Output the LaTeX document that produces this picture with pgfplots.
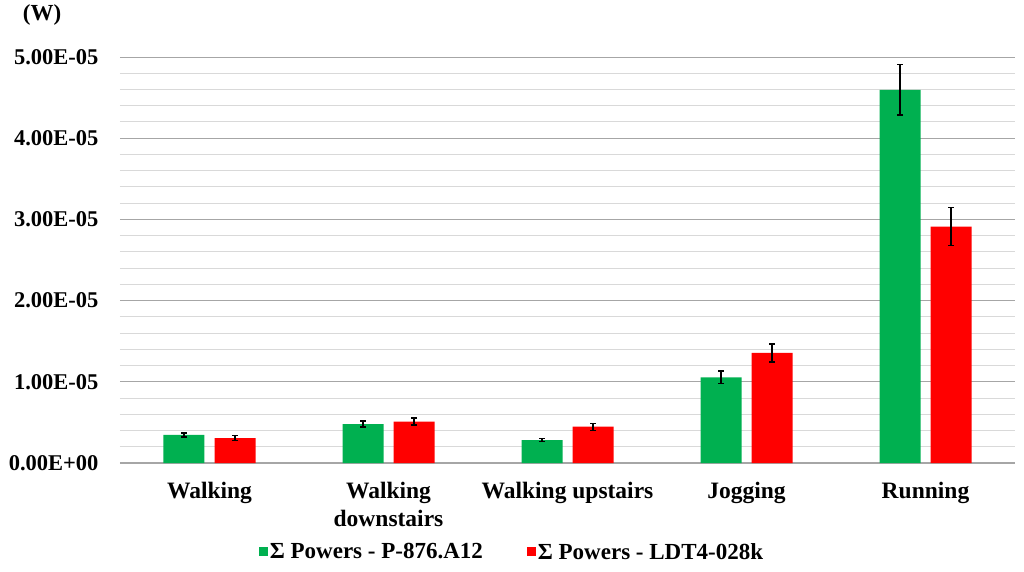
\documentclass[border=0pt]{standalone}
\usepackage{pgfplots}
\pgfplotsset{compat=1.18}
\usepackage{fontspec}
\setmainfont{Liberation Serif}
\definecolor{cgreen}{HTML}{00B050}
\definecolor{cred}{HTML}{FF0000}
\definecolor{majgrid}{HTML}{A6A6A6}
\definecolor{mingrid}{HTML}{D9D9D9}
\begin{document}
\begin{tikzpicture}
\begin{axis}[
  scale only axis,
  width=895pt, height=406pt,
  xmin=-0.5, xmax=4.5,
  ymin=0, ymax=5e-5,
  ybar=10pt, bar width=41pt,
  xtick={0,1,2,3,4},
  xticklabels={Walking, Walking\\downstairs, Walking upstairs, Jogging, Running},
  xticklabel style={align=center, font=\fontsize{23.5}{28}\selectfont\bfseries, yshift=-16pt},
  scaled y ticks=false,
  ytick={0,1e-5,2e-5,3e-5,4e-5,5e-5},
  yticklabels={0.00E+00,1.00E-05,2.00E-05,3.00E-05,4.00E-05,5.00E-05},
  yticklabel style={font=\fontsize{22.5}{26}\selectfont\bfseries, xshift=-18pt},
  minor y tick num=4,
  ymajorgrids, yminorgrids,
  major grid style={majgrid, line width=1pt},
  minor grid style={mingrid, line width=1pt},
  major tick length=0pt, minor tick length=0pt,
  axis x line*=bottom,
  axis y line*=left,
  y axis line style={draw=none},
  x axis line style={majgrid, line width=1.2pt, -},
  clip=false,
  legend style={at={(0.438,-0.219)}, anchor=center, draw=none, fill=none,
    legend columns=2, font=\fontsize{23}{26}\selectfont\bfseries,
    /tikz/every even column/.append style={column sep=42pt}},
  legend image code/.code={\fill[#1] (0pt,-4.5pt) rectangle (9pt,4.5pt);},
  error bars/error bar style={black, line width=1.3pt},
  error bars/error mark options={rotate=90, mark size=3pt, black, line width=1.3pt},
]
\addplot[fill=cgreen, draw=none, error bars/.cd, y dir=both, y explicit]
  coordinates {
  (0,3.45e-6) +- (0,0.25e-6)
  (1,4.8e-6) +- (0,0.37e-6)
  (2,2.83e-6) +- (0,0.22e-6)
  (3,10.55e-6) +- (0,0.78e-6)
  (4,45.94e-6) +- (0,3.1e-6)
  };
\addlegendentry{Σ Powers - P-876.A12}
\addplot[fill=cred, draw=none, error bars/.cd, y dir=both, y explicit]
  coordinates {
  (0,3.05e-6) +- (0,0.3e-6)
  (1,5.1e-6) +- (0,0.43e-6)
  (2,4.47e-6) +- (0,0.43e-6)
  (3,13.55e-6) +- (0,1.1e-6)
  (4,29.1e-6) +- (0,2.35e-6)
  };
\addlegendentry{Σ Powers - LDT4-028k}
\node[font=\fontsize{23}{26}\selectfont\bfseries] at (axis description cs:-0.087,1.103) {(W)};
\end{axis}
\pgfresetboundingbox
\path (current axis.south west) ++(-120pt,-108pt) rectangle ++(1024pt,571pt);
\end{tikzpicture}
\end{document}
